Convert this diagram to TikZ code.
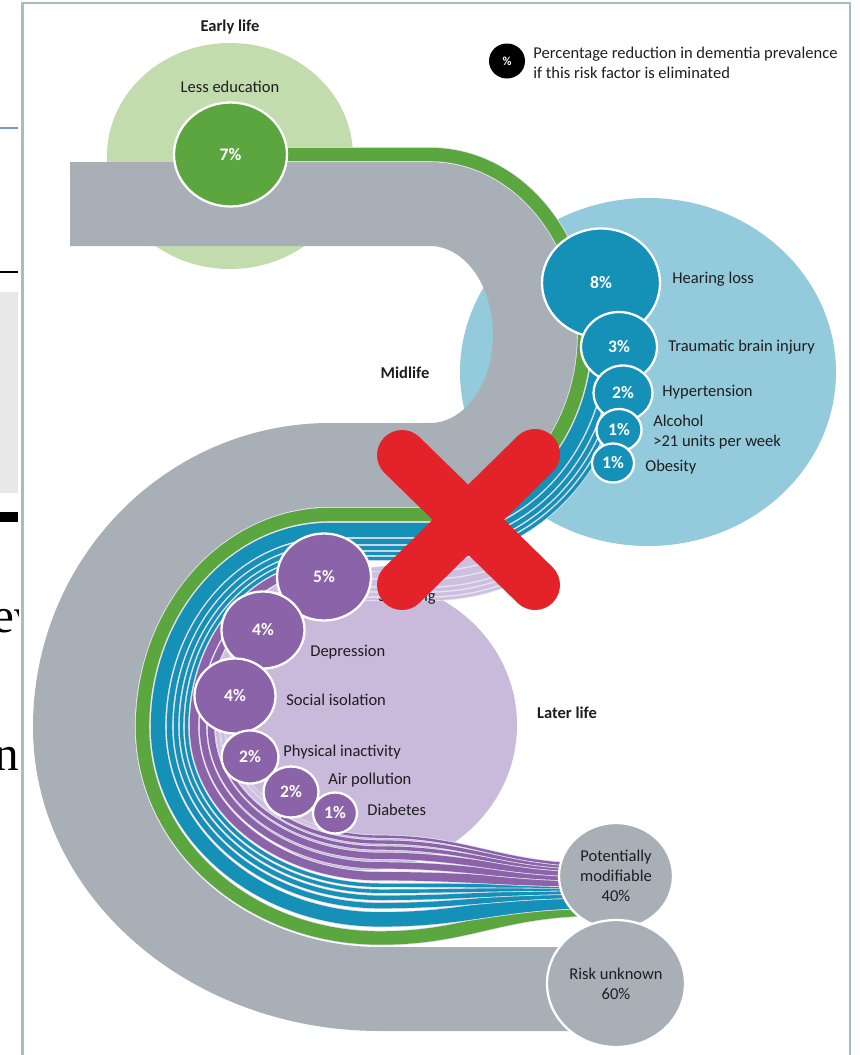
\documentclass[tikz,border=0pt]{standalone}
\usepackage{fontspec}
\setmainfont{Carlito}
\newfontfamily\pagefont{Liberation Serif}
\usetikzlibrary{shapes.geometric}

\definecolor{bandgray}{HTML}{A8AFB6}
\definecolor{edugreen}{HTML}{5CA63F}
\definecolor{earlygreen}{HTML}{C3DCAE}
\definecolor{midblue}{HTML}{93CBDD}
\definecolor{riskblue}{HTML}{1590B7}
\definecolor{laterpurple}{HTML}{C9B9DB}
\definecolor{riskpurple}{HTML}{8A63A8}
\definecolor{ghost}{HTML}{CDBFE0}
\definecolor{sep}{HTML}{E4E0EF}
\definecolor{crossred}{HTML}{E4222A}
\definecolor{framecol}{HTML}{A3BFBF}
\definecolor{pageblue}{HTML}{7398D6}
\definecolor{pagegray}{HTML}{E8E8E8}
\definecolor{ink}{HTML}{1E1E1E}

\newlength\unitpx \setlength\unitpx{0.02cm}
\newcommand\lab{\fontsize{9.4}{11.3}\selectfont}
\newcommand\pct{\fontsize{10}{12}\selectfont\bfseries}

% radii of one stream, #1 = offset across the river
\newcommand\offs[1]{%
  \pgfmathsetmacro\ura{147+#1}\pgfmathsetmacro\urb{172.5+#1}%
  \pgfmathsetmacro\lra{195-#1}\pgfmathsetmacro\lrb{220-#1}%
  \pgfmathsetmacro\bra{245-#1}\pgfmathsetmacro\brb{220-1.2*#1}%
  \pgfmathsetmacro\ymid{507+#1}\pgfmathsetmacro\ybot{947-1.2*#1}%
  \pgfmathsetmacro\yend{913-0.52*#1}}
\newcommand\upperarc[2]{arc[start angle=#1,end angle=#2,x radius=\ura,y radius=\urb]}
\newcommand\leftarc[2]{arc[start angle=#1,end angle=#2,x radius=\lra,y radius=\lrb]}
\newcommand\bottomarc[2]{arc[start angle=#1,end angle=#2,x radius=\bra,y radius=\brb]}
\newcommand\onupper[1]{([shift={(430,334.5)}]xyz polar cs:angle=#1,x radius=\ura,y radius=\urb)}
\newcommand\onleft[1]{([shift={(330,727)}]xyz polar cs:angle=#1,x radius=\lra,y radius=\lrb)}
\newcommand\onbottom[1]{([shift={(380,727)}]xyz polar cs:angle=#1,x radius=\bra,y radius=\brb)}
\newcommand\exitrun{.. controls (470,\ybot) and (500,\yend) .. (600,\yend)}

\pgfdeclarelayer{backdrop}
\pgfdeclarelayer{river}
\pgfdeclarelayer{top}
\pgfsetlayers{backdrop,river,main,top}

\begin{document}
\begin{tikzpicture}[x=0.02cm,y=-0.02cm,
    zone/.style={ellipse, inner sep=0pt, draw=none},
    bub/.style 2 args={ellipse, inner sep=0pt, minimum width=#1\unitpx, minimum height=#2\unitpx,
      draw=white, line width=1.3pt, text=white, font=\pct},
    tag/.style={anchor=west, inner sep=0pt, text=ink, font=\lab},
    stage/.style={inner sep=0pt, text=ink, font=\lab\bfseries},
    flow/.style 2 args={draw=sep, line width=0.8\unitpx, double=#1, double distance=#2\unitpx-1.6\unitpx},
    crossbar/.style={draw=crossred, line width=50\unitpx, line cap=round}]
  \useasboundingbox (0,0) rectangle (859,1055);

  % edge of the page behind
  \begin{scope}
    \clip (0,0) rectangle (18,1055);
    \draw[pageblue, line width=1.2\unitpx] (0,128) -- (18,128);
    \draw[black, line width=2.5\unitpx] (0,272) -- (18,272);
    \fill[pagegray] (0,292) rectangle (18,493);
    \fill[black] (0,512) rectangle (18,522);
    \node[anchor=base west, inner sep=0pt, font=\pagefont\fontsize{28}{28}\selectfont] (pg1) at (-8,632) {ev};
    \node[anchor=base west, inner sep=0pt, font=\pagefont\fontsize{28}{28}\selectfont] (pg2) at (-6,770) {n};
  \end{scope}
  \draw[framecol, line width=1.2pt] (22.5,1070) -- (22.5,3) -- (850,3) -- (850,1070);

  % life stages
  \begin{pgfonlayer}{backdrop}
    \node[zone, fill=earlygreen, minimum width=246\unitpx, minimum height=226\unitpx] (early) at (230,156) {};
    \node[zone, fill=midblue, minimum width=376\unitpx, minimum height=348\unitpx] (mid) at (648,372) {};
    \node[zone, fill=laterpurple, minimum width=304\unitpx, minimum height=290\unitpx] (later) at (365,725) {};
  \end{pgfonlayer}
  \node[stage] (earlylab) at (230,27) {Early life};
  \node[stage] (midlab) at (405,373) {Midlife};
  \node[stage] (laterlab) at (567,713) {Later life};

  % risk factors
  \node[bub={113}{104}, fill=edugreen] (edu) at (230.5,154.5) {7\%};
  \node[bub={118}{109}, fill=riskblue] (hear) at (601,283) {8\%};
  \node[bub={76}{70}, fill=riskblue] (tbi) at (619,347) {3\%};
  \node[bub={59}{55}, fill=riskblue] (hyp) at (623,393) {2\%};
  \node[bub={45}{42}, fill=riskblue] (alc) at (619,430) {1\%};
  \node[bub={42}{39}, fill=riskblue] (obe) at (613,463) {1\%};
  \node[bub={94}{87}, fill=riskpurple] (smk) at (324,577) {5\%};
  \node[bub={83}{77}, fill=riskpurple] (dep) at (263,630) {4\%};
  \node[bub={81}{75}, fill=riskpurple] (soc) at (235,696) {4\%};
  \node[bub={57}{53}, fill=riskpurple] (phy) at (250,757) {2\%};
  \node[bub={55}{51}, fill=riskpurple] (air) at (291,792) {2\%};
  \node[bub={44}{41}, fill=riskpurple] (dia) at (335,813) {1\%};

  \node[inner sep=0pt, text=ink, font=\lab] (edulab) at (230,87) {Less education};
  \node[tag] (hearlab) at (672,279) {Hearing loss};
  \node[tag] (tbilab) at (668,347) {Traumatic brain injury};
  \node[tag] (hyplab) at (662,392) {Hypertension};
  \node[tag, align=left] (alclab) at (653,432) {Alcohol\\>21 units per week};
  \node[tag] (obelab) at (645,467) {Obesity};
  \node[tag] (smklab) at (378,597) {Smoking};
  \node[tag] (deplab) at (310,652) {Depression};
  \node[tag] (soclab) at (286,700) {Social isolation};
  \node[tag] (phylab) at (283,752) {Physical inactivity};
  \node[tag] (airlab) at (328,780) {Air pollution};
  \node[tag] (dialab) at (367,810) {Diabetes};

  % outcomes
  \node[bub={114}{106}, fill=bandgray, text=ink, font=\lab, align=center] (pm) at (616,876) {Potentially\\modifiable\\40\%};
  \node[bub={138}{127}, fill=bandgray, text=ink, font=\lab, align=center] (unk) at (616,983.5) {Risk unknown\\60\%};

  % key
  \node[bub={36}{35}, fill=black, draw=none, font=\fontsize{7}{8}\selectfont\bfseries] (key) at (507,61) {\%};
  \node[tag, align=left] (keylab) at (533,63) {Percentage reduction in dementia prevalence\\if this risk factor is eliminated};

  % the river
  \begin{pgfonlayer}{river}
    \fill[bandgray] (70,162) -- (430,162)
      arc[start angle=-90,end angle=90,x radius=147,y radius=172.5] -- (330,507)
      arc[start angle=-90,end angle=-180,x radius=195,y radius=220]
      arc[start angle=180,end angle=90,x radius=245,y radius=220]
      -- (616,947) -- (616,1031) -- (380,1031)
      arc[start angle=90,end angle=180,x radius=347,y radius=304]
      arc[start angle=-180,end angle=-90,x radius=297,y radius=304] -- (430,423)
      arc[start angle=90,end angle=-90,x radius=63,y radius=88.5] -- (70,246) -- cycle;

    % faint tracks before the later life factors join
    \offs{59}\draw[flow={ghost}{10}] \onupper{70} \upperarc{70}{90} -- (smk.center);
    \offs{68}\draw[flow={ghost}{8}] \onupper{70} \upperarc{70}{90} -- (330,\ymid) \leftarc{-90}{-129.5} -- (dep.center);
    \offs{76}\draw[flow={ghost}{8}] \onupper{70} \upperarc{70}{90} -- (330,\ymid) \leftarc{-90}{-165} -- (soc.center);
    \offs{82.5}\draw[flow={ghost}{5}] \onupper{70} \upperarc{70}{90} -- (330,\ymid) \leftarc{-90}{-180} \bottomarc{180}{162} -- (phy.center);
    \offs{87.5}\draw[flow={ghost}{5}] \onupper{70} \upperarc{70}{90} -- (330,\ymid) \leftarc{-90}{-180} \bottomarc{180}{128} -- (air.center);
    \offs{92}\draw[flow={ghost}{4}] \onupper{70} \upperarc{70}{90} -- (330,\ymid) \leftarc{-90}{-180} \bottomarc{180}{110} -- (dia.center);

    % early life
    \offs{7.5}\draw[flow={edugreen}{15}] (edu.center) -- (430,154.5) \upperarc{-90}{90} -- (330,\ymid) \leftarc{-90}{-180} \bottomarc{180}{90} \exitrun;

    % midlife
    \offs{23}\draw[flow={riskblue}{16}] (hear.center) -- \onupper{-15} \upperarc{-15}{90} -- (330,\ymid) \leftarc{-90}{-180} \bottomarc{180}{90} \exitrun;
    \offs{34.5}\draw[flow={riskblue}{7}] (tbi.center) -- \onupper{3.5} \upperarc{3.5}{90} -- (330,\ymid) \leftarc{-90}{-180} \bottomarc{180}{90} \exitrun;
    \offs{41}\draw[flow={riskblue}{6}] (hyp.center) -- \onupper{16} \upperarc{16}{90} -- (330,\ymid) \leftarc{-90}{-180} \bottomarc{180}{90} \exitrun;
    \offs{46.5}\draw[flow={riskblue}{5}] (alc.center) -- \onupper{26} \upperarc{26}{90} -- (330,\ymid) \leftarc{-90}{-180} \bottomarc{180}{90} \exitrun;
    \offs{51.5}\draw[flow={riskblue}{5}] (obe.center) -- \onupper{34} \upperarc{34}{90} -- (330,\ymid) \leftarc{-90}{-180} \bottomarc{180}{90} \exitrun;

    % later life
    \offs{59}\draw[flow={riskpurple}{10}] (smk.center) -- \onleft{-92} \leftarc{-92}{-180} \bottomarc{180}{90} \exitrun;
    \offs{68}\draw[flow={riskpurple}{8}] (dep.center) -- \onleft{-129.5} \leftarc{-129.5}{-180} \bottomarc{180}{90} \exitrun;
    \offs{76}\draw[flow={riskpurple}{8}] (soc.center) -- \onleft{-165} \leftarc{-165}{-180} \bottomarc{180}{90} \exitrun;
    \offs{82.5}\draw[flow={riskpurple}{5}] (phy.center) -- \onbottom{162} \bottomarc{162}{90} \exitrun;
    \offs{87.5}\draw[flow={riskpurple}{5}] (air.center) -- \onbottom{128} \bottomarc{128}{90} \exitrun;
    \offs{92}\draw[flow={riskpurple}{4}] (dia.center) -- \onbottom{110} \bottomarc{110}{90} \exitrun;
  \end{pgfonlayer}

  % crossed out
  \begin{pgfonlayer}{top}
    \coordinate (xa) at (402,455);
    \coordinate (xb) at (535,585);
    \coordinate (xc) at (535,454);
    \coordinate (xd) at (402,585);
    \draw[crossbar] (xa) -- (xb);
    \draw[crossbar] (xc) -- (xd);
  \end{pgfonlayer}
\end{tikzpicture}
\end{document}
